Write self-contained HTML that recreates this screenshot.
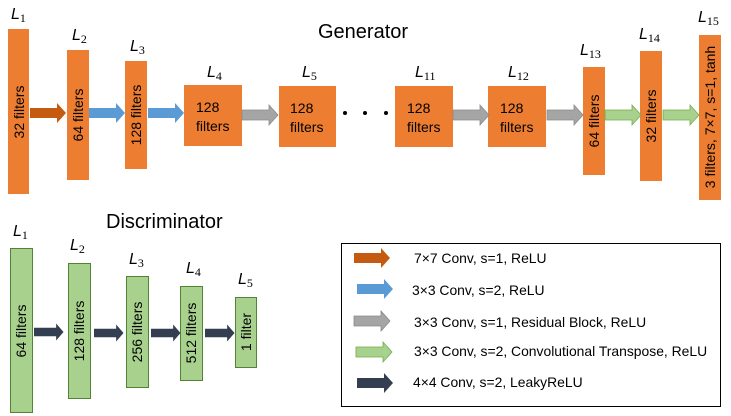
<!DOCTYPE html>
<html><head><meta charset="utf-8"><style>
html,body{margin:0;padding:0;background:#fff}
svg{display:block}
text{font-family:"Liberation Sans",sans-serif}
.t{font-size:14px;fill:#000}
.L{font-family:"Liberation Serif",serif;font-style:italic;font-size:16px}
.s{font-family:"Liberation Serif",serif;font-style:normal;font-size:12px}
</style></head><body>
<svg width="731" height="416" viewBox="0 0 731 416" xmlns="http://www.w3.org/2000/svg">
<defs>
<g id="ar"><path d="M0,-5 H27 V-10 L36,0 L27,10 V5 H0 Z"/></g>
</defs>
<text x="318" y="38" style="font-size:20px">Generator</text>
<g fill="#ed7d31">
<rect x="8" y="29" width="21" height="165"/>
<rect x="67" y="50" width="22" height="130"/>
<rect x="125" y="61" width="22" height="108"/>
<rect x="184" y="85" width="58" height="61"/>
<rect x="279" y="86" width="57" height="61"/>
<rect x="395" y="86" width="58" height="61"/>
<rect x="488" y="86" width="58" height="61"/>
<rect x="583" y="67" width="22" height="108"/>
<rect x="640" y="51" width="22" height="130"/>
<rect x="699" y="35" width="22" height="165"/>
</g>
<g class="t">
<text transform="translate(24,112) rotate(-90)" text-anchor="middle">32 filters</text>
<text transform="translate(83,115) rotate(-90)" text-anchor="middle">64 filters</text>
<text transform="translate(141,115) rotate(-90)" text-anchor="middle">128 filters</text>
<text x="196" y="112">128</text><text x="196" y="131">filters</text>
<text x="290" y="113">128</text><text x="290" y="132">filters</text>
<text x="407" y="113">128</text><text x="407" y="132">filters</text>
<text x="500" y="113">128</text><text x="500" y="132">filters</text>
<text transform="translate(599,121) rotate(-90)" text-anchor="middle">64 filters</text>
<text transform="translate(656,116) rotate(-90)" text-anchor="middle">32 filters</text>
<text transform="translate(715,117) rotate(-90)" text-anchor="middle">3 filters, 7×7, s=1, tanh</text>
</g>
<g class="L">
<text x="11" y="19">L<tspan class="s" dy="3">1</tspan></text>
<text x="72" y="40">L<tspan class="s" dy="3">2</tspan></text>
<text x="130" y="51">L<tspan class="s" dy="3">3</tspan></text>
<text x="207" y="77">L<tspan class="s" dy="3">4</tspan></text>
<text x="302" y="77">L<tspan class="s" dy="3">5</tspan></text>
<text x="415" y="77">L<tspan class="s" dy="3">11</tspan></text>
<text x="508" y="77">L<tspan class="s" dy="3">12</tspan></text>
<text x="580" y="55">L<tspan class="s" dy="3">13</tspan></text>
<text x="639" y="39">L<tspan class="s" dy="3">14</tspan></text>
<text x="698" y="22">L<tspan class="s" dy="3">15</tspan></text>
</g>
<g fill="#000"><circle cx="345" cy="113" r="2"/><circle cx="365" cy="113" r="2"/><circle cx="386" cy="113" r="2"/></g>
<use href="#ar" transform="translate(30,113)" fill="#c55a11"/>
<use href="#ar" transform="translate(89,113)" fill="#5b9bd5"/>
<use href="#ar" transform="translate(148,113)" fill="#5b9bd5"/>
<use href="#ar" transform="translate(242,115)" fill="#a5a5a5" stroke="#8a8a8a" stroke-width="0.8"/>
<use href="#ar" transform="translate(453,115)" fill="#a5a5a5" stroke="#8a8a8a" stroke-width="0.8"/>
<use href="#ar" transform="translate(547,115)" fill="#a5a5a5" stroke="#8a8a8a" stroke-width="0.8"/>
<use href="#ar" transform="translate(605,115)" fill="#a9d18e" stroke="#70ad47" stroke-width="0.8"/>
<use href="#ar" transform="translate(663,115)" fill="#a9d18e" stroke="#70ad47" stroke-width="0.8"/>
<text x="106" y="228" style="font-size:20px">Discriminator</text>
<g fill="#a9d18e" stroke="#548235" stroke-width="1">
<rect x="10.5" y="248.5" width="22" height="164"/>
<rect x="68.5" y="263.5" width="22" height="135"/>
<rect x="126.5" y="276.5" width="22" height="111"/>
<rect x="180.5" y="286.5" width="22" height="94"/>
<rect x="235.5" y="297.5" width="21" height="70"/>
</g>
<g class="t">
<text transform="translate(26,331) rotate(-90)" text-anchor="middle">64 filters</text>
<text transform="translate(84,331) rotate(-90)" text-anchor="middle">128 filters</text>
<text transform="translate(142,332) rotate(-90)" text-anchor="middle">256 filters</text>
<text transform="translate(196,333) rotate(-90)" text-anchor="middle">512 filters</text>
<text transform="translate(251,332) rotate(-90)" text-anchor="middle">1 filter</text>
</g>
<g class="L">
<text x="13" y="236">L<tspan class="s" dy="3">1</tspan></text>
<text x="70" y="250">L<tspan class="s" dy="3">2</tspan></text>
<text x="129" y="264">L<tspan class="s" dy="3">3</tspan></text>
<text x="186" y="273">L<tspan class="s" dy="3">4</tspan></text>
<text x="238" y="284">L<tspan class="s" dy="3">5</tspan></text>
</g>
<g fill="#333f50">
<use href="#ar" transform="translate(34,332) scale(0.82,0.85)"/>
<use href="#ar" transform="translate(94,333) scale(0.82,0.85)"/>
<use href="#ar" transform="translate(151,333) scale(0.82,0.85)"/>
<use href="#ar" transform="translate(205,333) scale(0.82,0.85)"/>
</g>
<rect x="341.5" y="243.5" width="379" height="163" fill="none" stroke="#000" stroke-width="1"/>
<use href="#ar" transform="translate(354,258)" fill="#c55a11"/>
<use href="#ar" transform="translate(357,289)" fill="#5b9bd5"/>
<use href="#ar" transform="translate(354,321)" fill="#a5a5a5" stroke="#8a8a8a" stroke-width="0.8"/>
<use href="#ar" transform="translate(356,352)" fill="#a9d18e" stroke="#70ad47" stroke-width="0.8"/>
<use href="#ar" transform="translate(357,383)" fill="#333f50"/>
<g class="t" style="font-size:13.9px">
<text x="414" y="263">7×7 Conv, s=1, ReLU</text>
<text x="412" y="295">3×3 Conv, s=2, ReLU</text>
<text x="414" y="327">3×3 Conv, s=1, Residual Block, ReLU</text>
<text x="414" y="356">3×3 Conv, s=2, Convolutional Transpose, ReLU</text>
<text x="413" y="387">4×4 Conv, s=2, LeakyReLU</text>
</g>
</svg>
</body></html>
